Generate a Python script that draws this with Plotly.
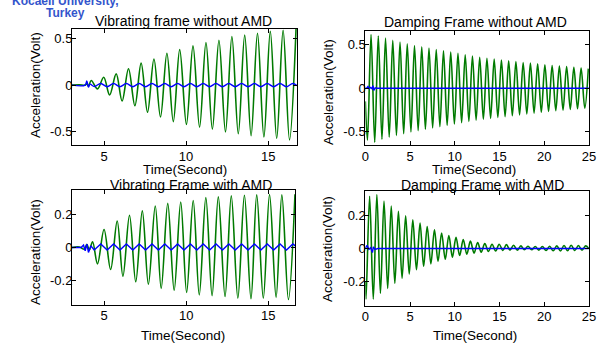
import plotly.graph_objects as go

W, H = 606, 346

# ---------------- data ----------------
# Vibrating frame without AMD (top-left): green = frame, blue = AMD signal
tl_green_lead_t = [3.05, 3.5, 3.85, 3.95, 4.05]
tl_green_lead_v = [0.0, 0.003, 0.0, 0.015, -0.01]
tl_green_peak_t = [4.22, 4.98, 5.74, 6.49, 7.26, 8.04, 8.83, 9.61, 10.42, 11.21, 12.0, 12.79, 13.57, 14.35, 15.13, 15.91, 16.7]
tl_green_peak_v = [0.05, 0.085, 0.12, 0.175, 0.235, 0.28, 0.34, 0.38, 0.42, 0.455, 0.48, 0.52, 0.535, 0.555, 0.575, 0.585, 0.61]
tl_green_trough_t = [4.6, 5.34, 6.1, 6.88, 7.65, 8.44, 9.22, 10.02, 10.82, 11.6, 12.4, 13.18, 13.96, 14.74, 15.52, 16.3]
tl_green_trough_v = [-0.04, -0.105, -0.17, -0.22, -0.29, -0.34, -0.39, -0.42, -0.45, -0.47, -0.5, -0.52, -0.54, -0.555, -0.57, -0.585]
tl_blue_t = [3.05, 3.85, 3.95, 4.05, 4.15, 4.41, 4.8, 5.19, 5.58, 5.97, 6.36, 6.75, 7.14, 7.53, 7.92, 8.31,
             8.7, 9.09, 9.48, 9.87, 10.26, 10.65, 11.04, 11.43, 11.82, 12.21, 12.6, 12.99, 13.38, 13.77,
             14.16, 14.55, 14.94, 15.33, 15.72, 16.11, 16.5, 16.75]
tl_blue_v = [0.0, 0.0, 0.045, -0.02, 0.01, -0.015, 0.018, -0.017, 0.018, -0.017, 0.018, -0.017, 0.018, -0.017,
             0.018, -0.017, 0.018, -0.017, 0.018, -0.017, 0.018, -0.017, 0.018, -0.017, 0.018, -0.017, 0.018,
             -0.017, 0.018, -0.017, 0.018, -0.017, 0.018, -0.017, 0.018, -0.017, 0.018, -0.005]

# Damping frame without AMD (top-right)
tr_green_lead_t = [0.0]
tr_green_lead_v = [-0.15]
tr_green_trough_t = [0.24, 1.05, 1.86, 2.67, 3.48, 4.29, 5.1, 5.91, 6.72, 7.53, 8.34, 9.15, 9.96, 10.77, 11.58,
                     12.39, 13.2, 14.01, 14.82, 15.63, 16.44, 17.25, 18.06, 18.87, 19.68, 20.49, 21.3, 22.11,
                     22.92, 23.73, 24.54]
tr_green_trough_v = [-0.595, -0.62, -0.585, -0.56, -0.54, -0.52, -0.5, -0.485, -0.47, -0.455, -0.44, -0.425,
                     -0.41, -0.395, -0.38, -0.365, -0.355, -0.345, -0.335, -0.325, -0.315, -0.305, -0.295,
                     -0.285, -0.275, -0.265, -0.257, -0.25, -0.242, -0.235, -0.228]
tr_green_peak_t = [0.64, 1.45, 2.26, 3.07, 3.88, 4.69, 5.5, 6.31, 7.12, 7.93, 8.74, 9.55, 10.36, 11.17, 11.98,
                   12.79, 13.6, 14.41, 15.22, 16.03, 16.84, 17.65, 18.46, 19.27, 20.08, 20.89, 21.7, 22.51,
                   23.32, 24.13, 24.94]
tr_green_peak_v = [0.615, 0.6, 0.575, 0.55, 0.53, 0.51, 0.49, 0.475, 0.46, 0.445, 0.43, 0.415, 0.4, 0.385, 0.37,
                   0.355, 0.345, 0.335, 0.325, 0.315, 0.305, 0.295, 0.29, 0.28, 0.27, 0.262, 0.255, 0.248,
                   0.24, 0.232, 0.225]
tr_blue_t = [0.0, 0.15, 0.3, 0.45, 0.6, 0.75, 0.85, 0.95, 1.1, 1.3, 25.0]
tr_blue_v = [0.0, 0.0, 0.02, -0.005, 0.01, -0.005, 0.03, -0.025, 0.005, 0.0, 0.0]

# Vibrating frame with AMD (bottom-left)
bl_green_lead_t = [3.05, 3.5, 3.8, 3.95, 4.1, 4.3]
bl_green_lead_v = [0.0, 0.003, -0.01, 0.02, -0.015, 0.035]
bl_green_trough_t = [4.6, 5.4, 6.15, 6.93, 7.7, 8.48, 9.27, 10.03, 10.8, 11.58, 12.37, 13.15, 13.95, 14.7, 15.48, 16.23]
bl_green_trough_v = [-0.1, -0.135, -0.176, -0.21, -0.225, -0.25, -0.262, -0.275, -0.29, -0.295, -0.3, -0.31,
                     -0.314, -0.31, -0.305, -0.318]
bl_green_peak_t = [5.0, 5.8, 6.55, 7.33, 8.12, 8.88, 9.67, 10.43, 11.2, 11.96, 12.75, 13.55, 14.3, 15.08, 15.83, 16.63]
bl_green_peak_v = [0.11, 0.162, 0.197, 0.224, 0.254, 0.27, 0.278, 0.288, 0.305, 0.31, 0.316, 0.32, 0.322, 0.324,
                   0.322, 0.326]
bl_blue_t = [3.05, 3.6, 3.75, 3.85, 3.95, 4.05, 4.2, 4.4, 4.8, 5.19, 5.58, 5.97, 6.36, 6.75, 7.14, 7.53, 7.92,
             8.31, 8.7, 9.09, 9.48, 9.87, 10.26, 10.65, 11.04, 11.43, 11.82, 12.21, 12.6, 12.99, 13.38, 13.77,
             14.16, 14.55, 14.94, 15.33, 15.72, 16.11, 16.5, 16.65]
bl_blue_v = [0.0, 0.0, 0.015, -0.02, 0.02, -0.03, 0.01, -0.015, 0.022, -0.016, 0.022, -0.016, 0.022, -0.016,
             0.022, -0.016, 0.022, -0.016, 0.022, -0.016, 0.022, -0.016, 0.022, -0.016, 0.022, -0.016, 0.022,
             -0.016, 0.022, -0.016, 0.022, -0.016, 0.022, -0.016, 0.022, -0.016, 0.022, -0.016, 0.022, 0.01]

# Damping frame with AMD (bottom-right)
br_green_lead_t = [0.0]
br_green_lead_v = [-0.2]
br_green_trough_t = [0.08, 0.89, 1.69, 2.5, 3.3, 4.11, 4.91, 5.72, 6.52, 7.33, 8.13, 8.94, 9.74, 10.55, 11.35,
                     12.16, 12.96, 13.77, 14.57, 15.38, 16.18, 16.99, 17.79, 18.6, 19.4, 20.21, 21.01, 21.82,
                     22.62, 23.43, 24.23]
br_green_trough_v = [-0.31, -0.31, -0.275, -0.244, -0.213, -0.182, -0.156, -0.13, -0.11, -0.094, -0.078, -0.066,
                     -0.053, -0.043, -0.035, -0.028, -0.022, -0.018, -0.015, -0.012, -0.01, -0.01, -0.008,
                     -0.008, -0.01, -0.012, -0.014, -0.015, -0.014, -0.012, -0.01]
br_green_peak_t = [0.48, 1.29, 2.09, 2.9, 3.7, 4.51, 5.31, 6.12, 6.92, 7.73, 8.53, 9.34, 10.14, 10.95, 11.75,
                   12.56, 13.36, 14.17, 14.97, 15.78, 16.58, 17.39, 18.19, 19.0, 19.8, 20.61, 21.41, 22.22,
                   23.02, 23.83, 24.63]
br_green_peak_v = [0.32, 0.33, 0.29, 0.26, 0.227, 0.2, 0.176, 0.156, 0.135, 0.115, 0.095, 0.08, 0.068, 0.055,
                   0.045, 0.037, 0.03, 0.026, 0.026, 0.024, 0.02, 0.016, 0.014, 0.012, 0.012, 0.014, 0.016,
                   0.018, 0.02, 0.018, 0.016]
br_green_end_t = [25.0]
br_green_end_v = [0.0]
br_blue_t = [0.0, 0.2, 0.4, 0.6, 0.8, 0.9, 1.1, 1.4, 25.0]
br_blue_v = [0.0, 0.02, -0.005, 0.005, -0.025, 0.01, -0.005, 0.0, 0.0]

titles = ["Vibrating frame without AMD", "Damping Frame without AMD",
          "Vibrating Frame with AMD", "Damping Frame with AMD"]
x_label = "Time(Second)"
y_label = "Acceleration(Volt)"
tl_xticks = [5, 10, 15]
tr_xticks = [0, 5, 10, 15, 20, 25]
top_yticks = [-0.5, 0, 0.5]
top_yticklabels = ["-0.5", "0", "0.5"]
bot_yticks = [-0.2, 0, 0.2]
bot_yticklabels = ["-0.2", "0", "0.2"]


def merge(*pairs):
    pts = []
    for t, v in pairs:
        pts.extend(zip(t, v))
    pts.sort(key=lambda p: p[0])
    return [p[0] for p in pts], [p[1] for p in pts]


GREEN = "#007a00"
BLUE = "#0000ff"
FONT = "Liberation Sans, Arial, Helvetica, sans-serif"

fig = go.Figure()

panels = [
    ("x", "y", merge((tl_green_lead_t, tl_green_lead_v), (tl_green_peak_t, tl_green_peak_v),
                     (tl_green_trough_t, tl_green_trough_v)), (tl_blue_t, tl_blue_v), "spline"),
    ("x2", "y2", merge((tr_green_lead_t, tr_green_lead_v), (tr_green_peak_t, tr_green_peak_v),
                       (tr_green_trough_t, tr_green_trough_v)), (tr_blue_t, tr_blue_v), "linear"),
    ("x3", "y3", merge((bl_green_lead_t, bl_green_lead_v), (bl_green_peak_t, bl_green_peak_v),
                       (bl_green_trough_t, bl_green_trough_v)), (bl_blue_t, bl_blue_v), "linear"),
    ("x4", "y4", merge((br_green_lead_t, br_green_lead_v), (br_green_peak_t, br_green_peak_v),
                       (br_green_trough_t, br_green_trough_v), (br_green_end_t, br_green_end_v)),
     (br_blue_t, br_blue_v), "linear"),
]

for xa, ya, (gt, gv), (bt, bv), bshape in panels:
    fig.add_trace(go.Scatter(x=gt, y=gv, mode="lines", xaxis=xa, yaxis=ya,
                             line=dict(color=GREEN, width=1.6, shape="spline", smoothing=1.0),
                             showlegend=False, hoverinfo="skip"))
    fig.add_trace(go.Scatter(x=bt, y=bv, mode="lines", xaxis=xa, yaxis=ya,
                             line=dict(color=BLUE, width=1.4, shape=bshape),
                             showlegend=False, hoverinfo="skip"))


def px(x):
    return x / W


def py(y):
    return 1 - y / H


axis_common = dict(showline=True, linecolor="black", linewidth=1, mirror="ticks", ticks="inside",
                   ticklen=4, tickcolor="black", showgrid=False, zeroline=False,
                   tickfont=dict(family=FONT, size=13, color="black"))

boxes = {
    "1": (69.3, 298.3, 29.0, 145.0),
    "2": (368.0, 595.7, 30.7, 145.0),
    "3": (69.3, 296.7, 190.3, 304.7),
    "4": (368.0, 595.7, 191.3, 305.7),
}
xranges = {"1": [3.05, 16.75], "2": [0, 25], "3": [3.05, 16.65], "4": [0, 25]}
yranges = {"1": [-0.64, 0.6], "2": [-0.65, 0.66], "3": [-0.35, 0.35], "4": [-0.35, 0.35]}
xticks = {"1": tl_xticks, "2": tr_xticks, "3": tl_xticks, "4": tr_xticks}
yticks = {"1": (top_yticks, top_yticklabels), "2": (top_yticks, top_yticklabels),
          "3": (bot_yticks, bot_yticklabels), "4": (bot_yticks, bot_yticklabels)}

layout = dict(width=W, height=H, margin=dict(l=0, r=0, t=0, b=0),
              paper_bgcolor="white", plot_bgcolor="white", showlegend=False)
for k, (x0, x1, y0, y1) in boxes.items():
    sx = "" if k == "1" else k
    layout["xaxis" + sx] = dict(axis_common, domain=[px(x0), px(x1)], range=xranges[k],
                                tickvals=xticks[k], anchor="y" + sx, ticklabelstandoff=-1)
    yv, yt = yticks[k]
    layout["yaxis" + sx] = dict(axis_common, domain=[py(y1), py(y0)], range=yranges[k],
                                tickvals=yv, ticktext=yt, anchor="x" + sx, ticklabelstandoff=-4)
fig.update_layout(**layout)

ann = []


def text(t, x, y, size, angle=0, color="black", bold=False):
    ann.append(dict(text=("<b>%s</b>" % t) if bold else t, x=px(x), y=py(y), xref="paper", yref="paper",
                    xanchor="center", yanchor="middle", showarrow=False, textangle=angle,
                    font=dict(family=FONT, size=size, color=color)))


text(titles[0], 183, 21, 14)
text(titles[1], 480, 22.5, 14)
text(titles[2], 190, 184.5, 14)
text(titles[3], 487, 184.5, 14)
for (x, y) in [(184, 169), (479, 169), (182, 335), (480, 335)]:
    text(x_label, x, y, 13.5)
for (x, y) in [(31.5, 85), (331, 92), (31.5, 252), (329, 249)]:
    text(y_label, x, y, 13.5, angle=-90)
text("Kocaeli University,", 63, 1, 12, color="#3355cc", bold=True)
text("Turkey", 63, 13, 12, color="#3355cc", bold=True)
fig.update_layout(annotations=ann)

fig.write_html("out.html", config={"displayModeBar": False},
               post_script="document.body.style.margin='0';document.body.style.overflow='hidden';")
